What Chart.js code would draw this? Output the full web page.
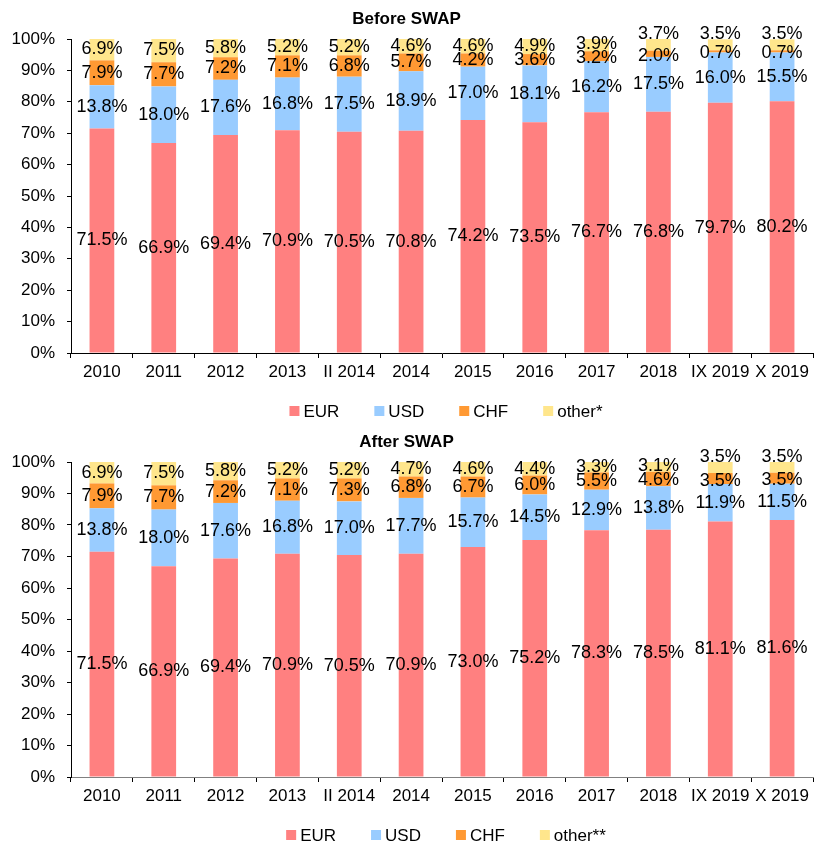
<!DOCTYPE html>
<html>
<head>
<meta charset="utf-8">
<script src="https://cdn.jsdelivr.net/npm/chart.js@4.4.1/dist/chart.umd.min.js"></script>
<style>
  body { margin: 0; background: #fff; }
  canvas { display: block; }
</style>
</head>
<body>
<canvas id="myChart1" width="829" height="423"></canvas>
<canvas id="myChart2" width="829" height="420"></canvas>
<script>
var periods = ['2010', '2011', '2012', '2013', 'II 2014', '2014', '2015', '2016', '2017', '2018', 'IX 2019', 'X 2019'];
var yTicks = [0, 10, 20, 30, 40, 50, 60, 70, 80, 90, 100];

// currency shares before swap, %
var eurBefore   = [71.5, 66.9, 69.4, 70.9, 70.5, 70.8, 74.2, 73.5, 76.7, 76.8, 79.7, 80.2];
var usdBefore   = [13.8, 18.0, 17.6, 16.8, 17.5, 18.9, 17.0, 18.1, 16.2, 17.5, 16.0, 15.5];
var chfBefore   = [7.9, 7.7, 7.2, 7.1, 6.8, 5.7, 4.2, 3.6, 3.2, 2.0, 0.7, 0.7];
var otherBefore = [6.9, 7.5, 5.8, 5.2, 5.2, 4.6, 4.6, 4.9, 3.9, 3.7, 3.5, 3.5];

// currency shares after swap, %
var eurAfter   = [71.5, 66.9, 69.4, 70.9, 70.5, 70.9, 73.0, 75.2, 78.3, 78.5, 81.1, 81.6];
var usdAfter   = [13.8, 18.0, 17.6, 16.8, 17.0, 17.7, 15.7, 14.5, 12.9, 13.8, 11.9, 11.5];
var chfAfter   = [7.9, 7.7, 7.2, 7.1, 7.3, 6.8, 6.7, 6.0, 5.5, 4.6, 3.5, 3.5];
var otherAfter = [6.9, 7.5, 5.8, 5.2, 5.2, 4.7, 4.6, 4.4, 3.3, 3.1, 3.5, 3.5];

var FONT = '"Liberation Sans", Arial, sans-serif';
Chart.defaults.font.family = FONT;
Chart.defaults.color = '#000';

// value labels in the middle of each segment
var barLabels = {
  id: 'barLabels',
  afterDatasetsDraw: function (chart) {
    var ctx = chart.ctx;
    var top = chart.scales.y.getPixelForValue(100);
    var sets = chart.data.datasets;
    ctx.save();
    ctx.font = '18px ' + FONT;
    ctx.fillStyle = '#000';
    ctx.textAlign = 'center';
    ctx.textBaseline = 'middle';
    chart.data.labels.forEach(function (lbl, i) {
      var ys = sets.map(function (ds, d) {
        var bar = chart.getDatasetMeta(d).data[i];
        return (bar.y + bar.base) / 2;
      });
      // CHF and other labels get pushed apart when the segments are thin
      var half = (sets[2].data[i] + sets[3].data[i]) / 2;
      if (half < 3.52) {
        ys[3] = top - 5;
        ys[2] += 2;
      } else if (ys[2] - ys[3] < 14) {
        var mid = (ys[2] + ys[3]) / 2;
        ys[2] = mid + 7;
        ys[3] = mid - 7;
      }
      sets.forEach(function (ds, d) {
        var bar = chart.getDatasetMeta(d).data[i];
        ctx.fillText(ds.data[i].toFixed(1) + '%', bar.x, ys[d]);
      });
    });
    ctx.restore();
  }
};

// legend row under the axis: square swatch + name, fixed gap between items
var legendRow = {
  id: 'legendRow',
  afterDraw: function (chart) {
    var ctx = chart.ctx;
    var area = chart.chartArea;
    var sets = chart.data.datasets;
    ctx.save();
    ctx.font = '17px ' + FONT;
    ctx.textBaseline = 'middle';
    ctx.textAlign = 'left';
    var gap = 35;
    var widths = sets.map(function (ds) { return 14 + ctx.measureText(ds.label).width; });
    var total = widths.reduce(function (a, b) { return a + b; }, 0) + gap * (sets.length - 1);
    var x = (area.left + area.right) / 2 + 4 - total / 2;
    var y = area.bottom + 58;
    sets.forEach(function (ds, d) {
      ctx.fillStyle = ds.backgroundColor;
      ctx.fillRect(x, y - 5, 10, 10);
      ctx.fillStyle = '#000';
      ctx.fillText(ds.label, x + 14, y + 1);
      x += widths[d] + gap;
    });
    ctx.restore();
  }
};

function makeChart(id, title, otherName, eur, usd, chf, other, baseColor, padBottom) {
  var ctx = document.getElementById(id).getContext('2d');
  return new Chart(ctx, {
    type: 'bar',
    data: {
      labels: periods,
      datasets: [
        { label: 'EUR', data: eur, backgroundColor: '#FF8080' },
        { label: 'USD', data: usd, backgroundColor: '#99CCFF' },
        { label: 'CHF', data: chf, backgroundColor: '#FF9933' },
        { label: otherName, data: other, backgroundColor: '#FFE68C' }
      ]
    },
    options: {
      responsive: false,
      animation: false,
      datasets: { bar: { barPercentage: 0.4, categoryPercentage: 1, borderWidth: 0 } },
      layout: { padding: { left: 0, right: 16, top: 0, bottom: padBottom } },
      scales: {
        x: {
          stacked: true,
          grid: { drawOnChartArea: false, drawTicks: true, tickLength: 5, tickColor: '#000', offset: true },
          border: { color: baseColor, width: 1 },
          ticks: { padding: 4, font: { size: 17 }, color: '#000', maxRotation: 0 }
        },
        y: {
          stacked: true,
          min: 0,
          max: 100,
          afterFit: function (s) { s.width = 71; },
          afterBuildTicks: function (s) { s.ticks = yTicks.map(function (v) { return { value: v }; }); },
          grid: { drawOnChartArea: false, drawTicks: true, tickLength: 4, tickColor: '#000' },
          border: { color: '#000', width: 1 },
          ticks: { padding: 12, font: { size: 17 }, color: '#000', callback: function (v) { return v + '%'; } }
        }
      },
      plugins: {
        title: {
          display: true,
          text: title,
          color: '#000',
          font: { size: 17, weight: 'bold' },
          padding: { top: 9, bottom: 9.6 }
        },
        legend: { display: false },
        tooltip: { enabled: false }
      }
    },
    plugins: [barLabels, legendRow]
  });
}

makeChart('myChart1', 'Before SWAP', 'other*', eurBefore, usdBefore, chfBefore, otherBefore, '#000', 36.6);
makeChart('myChart2', 'After SWAP', 'other**', eurAfter, usdAfter, chfAfter, otherAfter, '#808080', 32.6);
</script>
</body>
</html>
